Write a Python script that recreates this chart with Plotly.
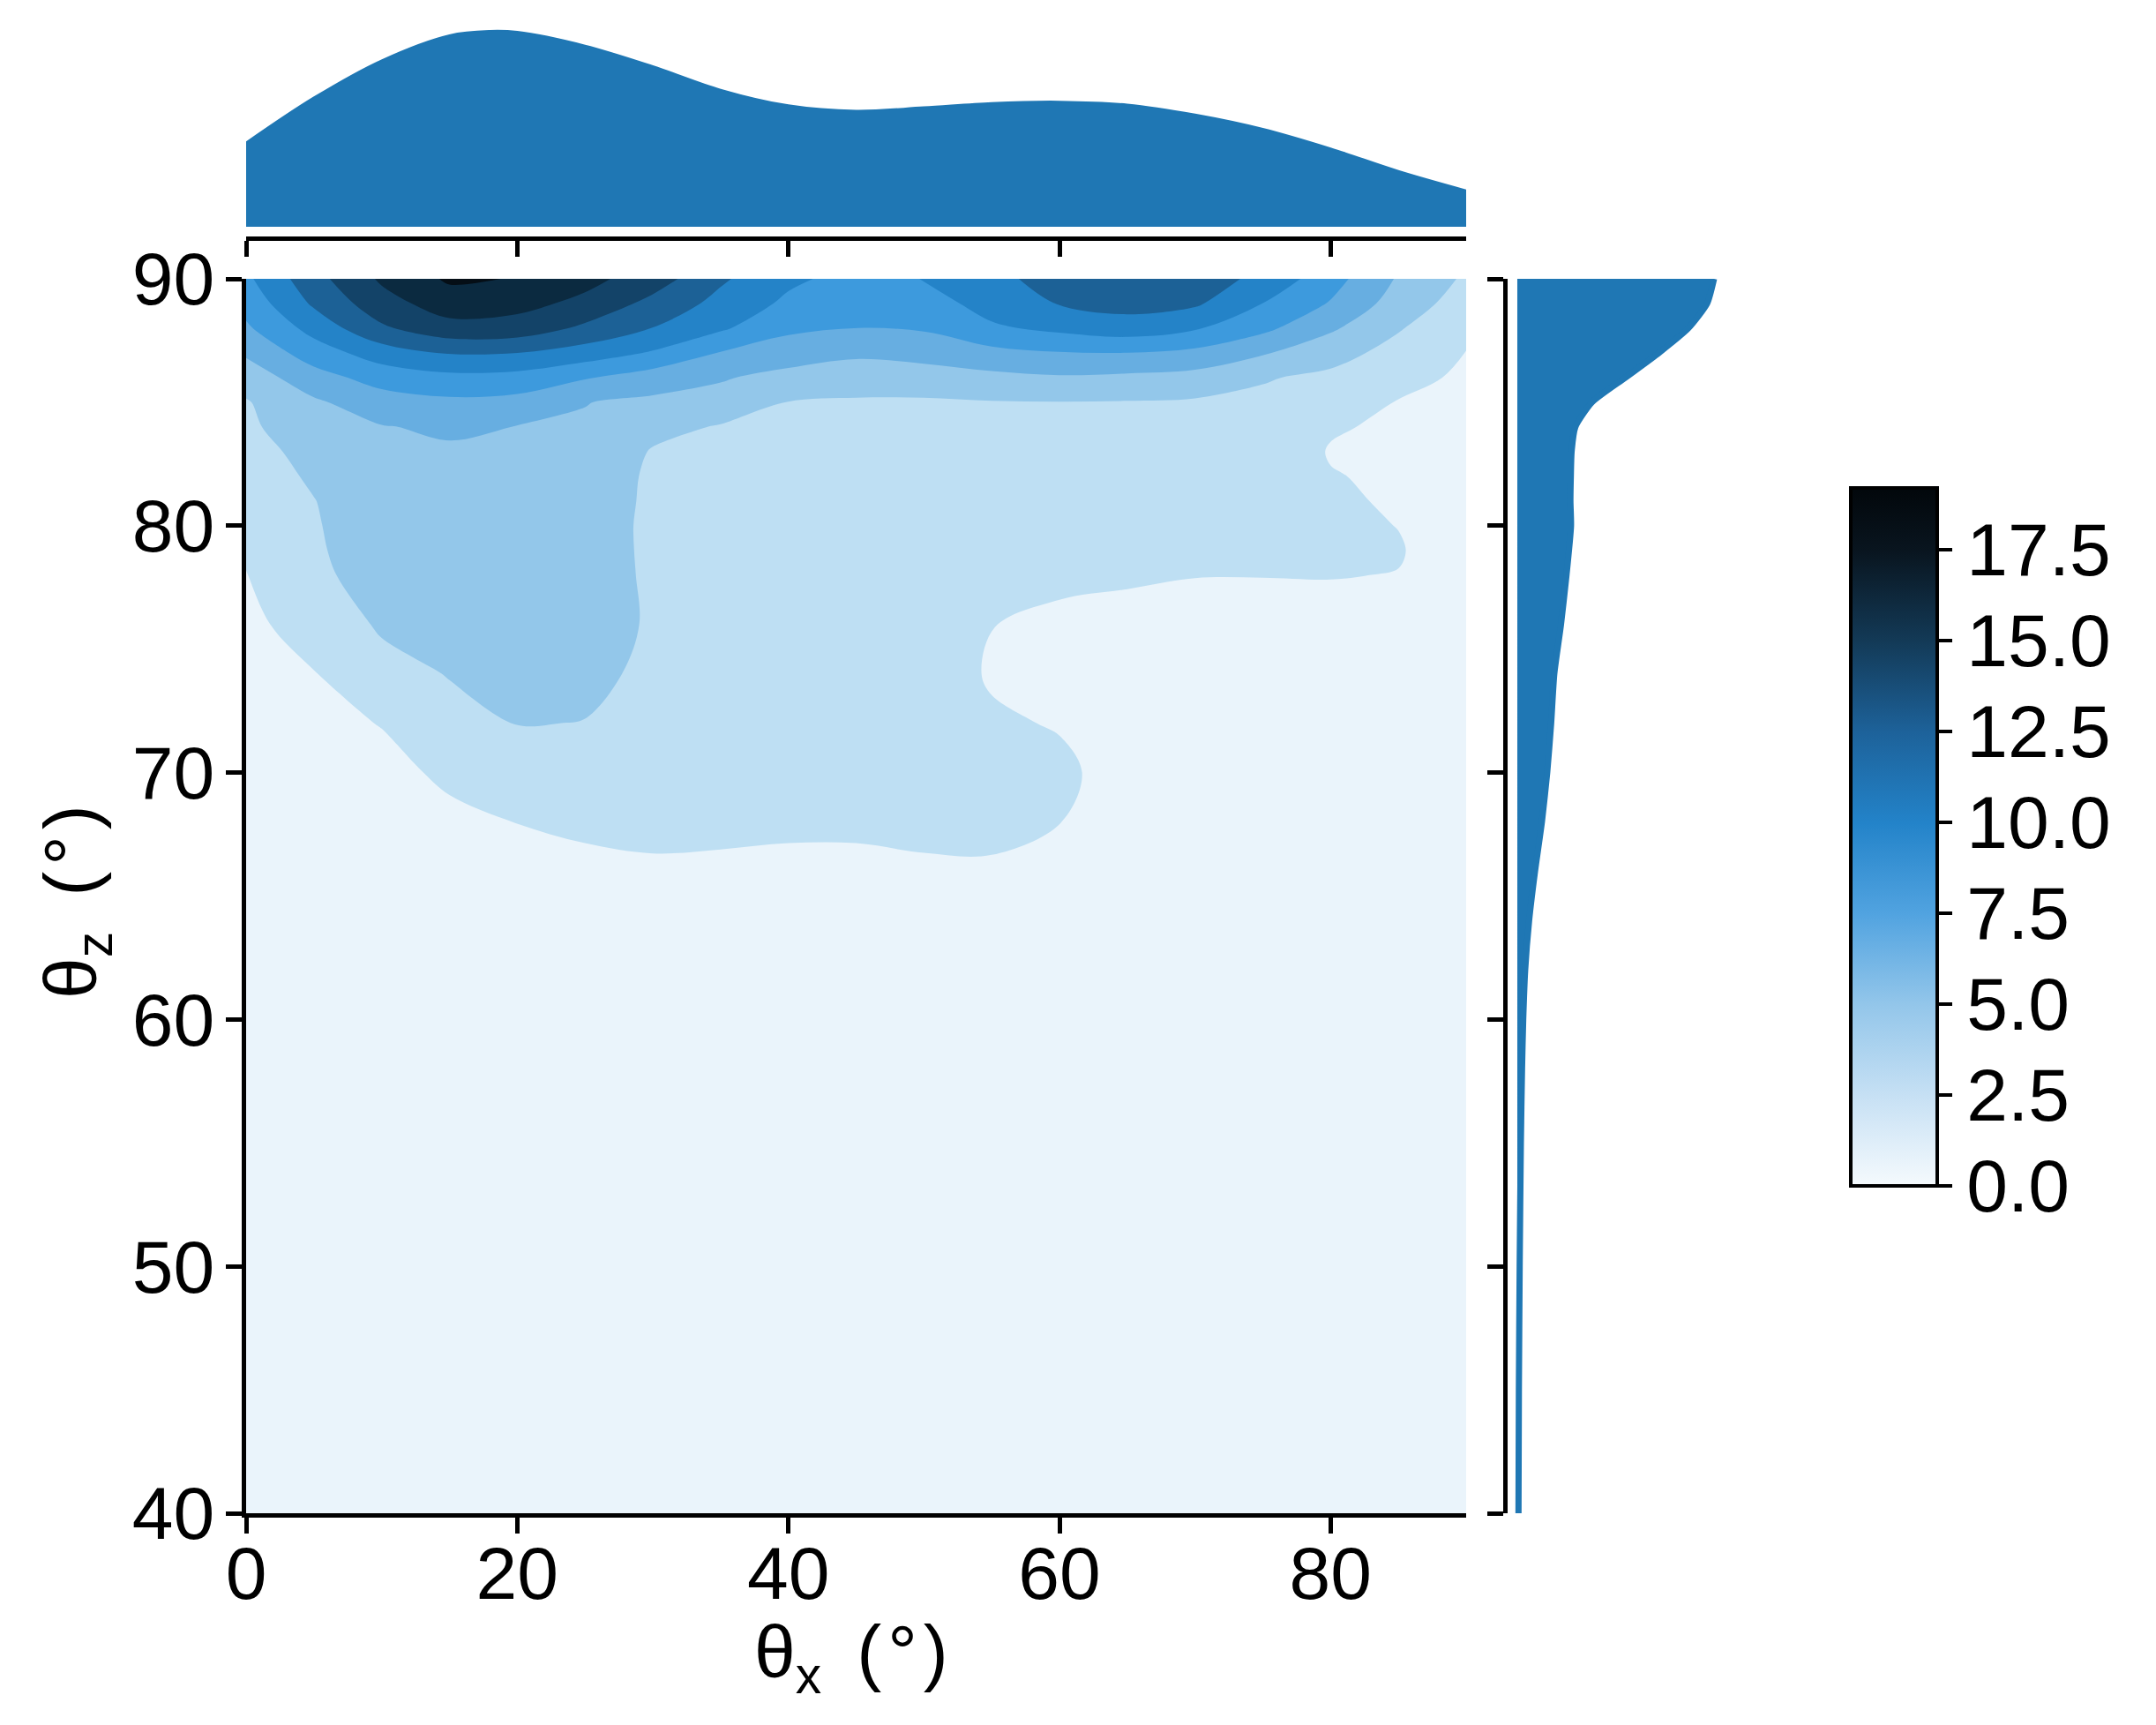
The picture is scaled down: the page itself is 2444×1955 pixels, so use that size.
import plotly.graph_objects as go

# page body has an 8 px margin; the figure is sized to fit inside the window
OFF = 8
W, H = 2444 - 2 * OFF, 1955 - 2 * OFF

# ---------------- data ----------------
theta_x = [0, 5, 10, 15, 20, 25, 30, 35, 40, 45, 50, 55, 60, 65, 70, 75, 80, 85, 90]
theta_z = [40, 50, 60, 64, 66, 68, 70, 72, 74, 76, 78, 79, 80, 81, 82, 83, 84, 85, 86, 87, 88, 89, 90]

# joint density, one row per theta_z value (columns follow theta_x)
row_40 = [0.05, 0.05, 0.06, 0.07, 0.08, 0.08, 0.08, 0.08, 0.08, 0.08, 0.08, 0.08, 0.08, 0.07, 0.06, 0.05, 0.05, 0.04, 0.04]
row_50 = [0.2, 0.2, 0.22, 0.25, 0.28, 0.3, 0.3, 0.3, 0.3, 0.3, 0.3, 0.3, 0.3, 0.25, 0.22, 0.2, 0.18, 0.16, 0.14]
row_60 = [0.5, 0.5, 0.55, 0.65, 0.75, 0.8, 0.85, 0.85, 0.85, 0.85, 0.85, 0.85, 0.8, 0.7, 0.6, 0.55, 0.5, 0.45, 0.4]
row_64 = [0.7, 0.75, 0.85, 1.05, 1.2, 1.25, 1.4, 1.4, 1.45, 1.45, 1.5, 1.5, 1.3, 1.0, 0.85, 0.75, 0.7, 0.65, 0.55]
row_66 = [0.8, 0.9, 1.05, 1.3, 1.5, 1.6, 1.8, 1.8, 1.8, 1.8, 1.85, 1.85, 1.6, 1.2, 1.0, 0.9, 0.85, 0.75, 0.62]
row_68 = [0.95, 1.1, 1.3, 1.7, 2.02, 2.3, 2.35, 2.25, 2.15, 2.15, 2.25, 2.3, 2.02, 1.35, 1.1, 1.0, 0.95, 0.85, 0.7]
row_70 = [1.1, 1.3, 1.6, 2.25, 3.0, 3.1, 2.8, 2.6, 2.4, 2.4, 2.5, 2.45, 2.3, 1.4, 1.2, 1.1, 1.05, 0.95, 0.8]
row_72 = [1.3, 1.6, 2.05, 3.3, 4.05, 3.97, 3.3, 2.9, 2.6, 2.6, 2.7, 2.2, 1.9, 1.4, 1.3, 1.25, 1.2, 1.1, 0.9]
row_74 = [1.5, 1.95, 3.2, 4.1, 4.3, 4.3, 3.75, 3.05, 2.8, 2.8, 2.85, 1.85, 1.6, 1.5, 1.45, 1.4, 1.35, 1.25, 1.0]
row_76 = [1.75, 2.45, 4.3, 4.5, 4.65, 4.6, 3.85, 3.15, 2.9, 2.9, 2.95, 2.02, 1.8, 1.75, 1.7, 1.65, 1.6, 1.5, 1.15]
row_78 = [1.95, 3.7, 4.6, 4.9, 4.95, 4.9, 3.7, 3.2, 3.0, 3.0, 3.05, 2.45, 2.2, 2.1, 2.02, 2.02, 2.04, 1.97, 1.3]
row_79 = [2.2, 3.8, 4.8, 5.1, 5.1, 5.05, 3.6, 3.2, 3.05, 3.05, 3.1, 2.65, 2.4, 2.3, 2.2, 2.2, 2.15, 2.08, 1.35]
row_80 = [2.5, 3.85, 5.05, 5.3, 5.3, 5.25, 3.5, 3.2, 3.1, 3.1, 3.2, 2.8, 2.6, 2.5, 2.45, 2.45, 2.25, 1.98, 1.35]
row_81 = [2.8, 3.95, 5.25, 5.5, 5.45, 5.4, 3.55, 3.25, 3.2, 3.2, 3.27, 2.95, 2.8, 2.7, 2.65, 2.65, 2.2, 1.85, 1.35]
row_82 = [3.06, 4.25, 5.5, 5.7, 5.6, 5.55, 3.6, 3.4, 3.3, 3.3, 3.35, 3.1, 3.0, 2.9, 2.9, 2.9, 2.08, 1.75, 1.35]
row_83 = [3.3, 4.6, 5.7, 5.75, 5.75, 5.7, 3.85, 3.6, 3.45, 3.4, 3.45, 3.3, 3.25, 3.2, 3.15, 3.15, 1.9, 1.7, 1.4]
row_84 = [3.6, 5.3, 5.9, 6.3, 5.95, 5.8, 4.6, 3.85, 3.6, 3.55, 3.6, 3.5, 3.5, 3.5, 3.45, 3.4, 2.15, 1.75, 1.45]
row_85 = [3.85, 5.7, 7.1, 7.6, 7.35, 6.05, 5.6, 5.2, 3.95, 3.75, 3.75, 3.9, 3.95, 3.9, 3.75, 3.6, 2.9, 1.92, 1.55]
row_86 = [4.85, 7.2, 8.8, 9.45, 9.3, 8.15, 7.0, 6.2, 5.3, 5.1, 5.1, 5.5, 5.8, 5.6, 5.3, 4.15, 3.6, 2.55, 1.7]
row_87 = [6.3, 9.0, 11.0, 12.15, 12.0, 11.1, 9.8, 7.9, 7.1, 6.3, 6.7, 7.4, 7.9, 7.98, 7.5, 6.2, 4.7, 3.35, 1.95]
row_88 = [7.7, 10.7, 13.7, 15.3, 15.2, 13.6, 11.95, 10.3, 8.35, 7.98, 8.2, 9.7, 10.45, 11.1, 10.2, 8.5, 6.3, 4.15, 2.5]
row_89 = [8.7, 12.3, 15.2, 17.0, 16.6, 15.5, 13.4, 11.4, 9.6, 8.7, 9.1, 10.8, 12.1, 12.7, 12.3, 9.98, 7.85, 5.1, 3.1]
row_90 = [9.6, 13.3, 16.3, 18.3, 17.9, 16.6, 15.0, 12.3, 10.4, 9.3, 10.05, 11.4, 12.9, 13.6, 13.0, 11.5, 8.8, 5.8, 3.7]

density = [row_40, row_50, row_60, row_64, row_66, row_68, row_70, row_72, row_74,
           row_76, row_78, row_79, row_80, row_81, row_82, row_83, row_84, row_85,
           row_86, row_87, row_88, row_89, row_90]

# marginal densities (relative heights)
top_x = [0, 5, 10, 15, 18, 20, 25, 30, 35, 40, 45, 50, 55, 60, 65, 70, 75, 80, 85, 90]
top_density = [0.43, 0.66, 0.85, 0.978, 1.0, 0.995, 0.925, 0.82, 0.70, 0.62, 0.592, 0.61,
               0.632, 0.639, 0.624, 0.573, 0.50, 0.40, 0.285, 0.186]

right_z = [40, 45, 50, 55, 58, 60, 62, 64, 66, 68, 70, 72, 74, 76, 78, 80, 81, 82, 83,
           84, 85, 86, 87, 88, 89, 90]
right_density = [0.006, 0.008, 0.012, 0.018, 0.024, 0.03, 0.04, 0.06, 0.09, 0.125, 0.152,
                 0.172, 0.188, 0.222, 0.25, 0.273, 0.27, 0.272, 0.276, 0.295, 0.38, 0.55,
                 0.72, 0.87, 0.965, 1.0]

x_ticks = [0, 20, 40, 60, 80]
z_ticks = [40, 50, 60, 70, 80, 90]
cbar_ticks = [0, 2.5, 5, 7.5, 10, 12.5, 15, 17.5]
cbar_max = 19.2

x_title = 'θ<sub>x</sub> \u2009(\u200a°\u200a)'
z_title = 'θ<sub>z</sub> \u2009(\u200a°\u200a)'

band_colors = ['#eaf4fb', '#bedff3', '#93c7ea', '#67aee1', '#3d9add',
               '#2483c8', '#1c6196', '#134368', '#0b2a40', '#050e16']
cbar_colors = [(0.0, '#f5fafd'), (0.13, '#c6e0f4'), (0.26, '#93c6ea'), (0.39, '#51a3e0'),
               (0.52, '#2383c9'), (0.65, '#1d629a'), (0.78, '#133a57'), (0.91, '#09151f'),
               (1.0, '#02070b')]
marg_color = '#1f77b4'
FS = 84


# ---------------- layout helpers (window pixel -> paper fraction) ----------------
def fx(p):
    return (p - OFF) / W


def fy(p):
    return 1 - (p - OFF) / H


main_x_dom = [fx(279), fx(1662)]
main_y_dom = [fy(1715), fy(316)]

fig = go.Figure()

fig.add_trace(go.Contour(
    x=theta_x, y=theta_z, z=density, xaxis='x', yaxis='y',
    contours=dict(start=2, end=18, size=2, coloring='fill', showlines=False),
    line=dict(width=0, smoothing=1.0),
    colorscale=[[i / (len(band_colors) - 1), c] for i, c in enumerate(band_colors)],
    showscale=False, hoverinfo='skip'))

fig.add_trace(go.Scatter(
    x=top_x, y=top_density, xaxis='x2', yaxis='y2', mode='lines', fill='tozeroy',
    fillcolor=marg_color, line=dict(color=marg_color, width=2, shape='spline', smoothing=1.0),
    hoverinfo='skip'))

fig.add_trace(go.Scatter(
    x=right_density, y=right_z, xaxis='x3', yaxis='y3', mode='lines', fill='tozerox',
    fillcolor=marg_color, line=dict(color=marg_color, width=7, shape='spline', smoothing=0.6),
    hoverinfo='skip'))

fig.add_trace(go.Scatter(
    x=[None], y=[None], mode='markers', xaxis='x', yaxis='y',
    marker=dict(color=[0], cmin=0, cmax=cbar_max, colorscale=[list(c) for c in cbar_colors],
                showscale=True,
                colorbar=dict(
                    x=fx(2098), xanchor='left', y=fy(948.5), yanchor='middle',
                    thickness=98, thicknessmode='pixels', len=791, lenmode='pixels',
                    xpad=0, ypad=0, outlinewidth=4, outlinecolor='black',
                    tickvals=cbar_ticks, ticktext=['%.1f' % v for v in cbar_ticks],
                    ticks='outside', ticklen=15, tickwidth=4, tickcolor='black',
                    tickfont=dict(size=FS, color='black'))),
    hoverinfo='skip', showlegend=False))

axis_common = dict(showline=True, linewidth=5, linecolor='black', ticks='outside',
                   ticklen=18, tickwidth=4.5, tickcolor='black', showgrid=False,
                   zeroline=False, automargin=False)

fig.update_layout(
    width=W, height=H, margin=dict(l=0, r=0, t=0, b=0, autoexpand=False),
    plot_bgcolor='white', paper_bgcolor='white', showlegend=False,
    font=dict(family='Liberation Sans, Arial, sans-serif', size=FS, color='black'),
    xaxis=dict(domain=main_x_dom, range=[0, 90], tickvals=x_ticks, anchor='y',
               ticklabelstandoff=-27, **axis_common),
    yaxis=dict(domain=main_y_dom, range=[40, 90], tickvals=z_ticks, anchor='x',
               ticklabelstandoff=-4, **axis_common),
    xaxis2=dict(domain=main_x_dom, range=[0, 90], tickvals=x_ticks, anchor='y2',
                showticklabels=False, **axis_common),
    yaxis2=dict(domain=[fy(268), fy(24)], range=[-0.0496, 1.0495], anchor='x2',
                visible=False),
    xaxis3=dict(domain=[fx(1709), fx(1960)], range=[-0.0493, 1.0763], anchor='y3',
                visible=False),
    yaxis3=dict(domain=main_y_dom, range=[40, 90], tickvals=z_ticks, anchor='x3',
                showticklabels=False, **axis_common),
    annotations=[
        dict(text=x_title, xref='paper', yref='paper', x=fx(965), y=fy(1878),
             xanchor='center', yanchor='middle', showarrow=False,
             font=dict(size=FS, color='black')),
        dict(text=z_title, xref='paper', yref='paper', x=fx(86), y=fy(1022),
             xanchor='center', yanchor='middle', showarrow=False, textangle=-90,
             font=dict(size=FS, color='black')),
    ],
)

fig.write_html('out.html')
